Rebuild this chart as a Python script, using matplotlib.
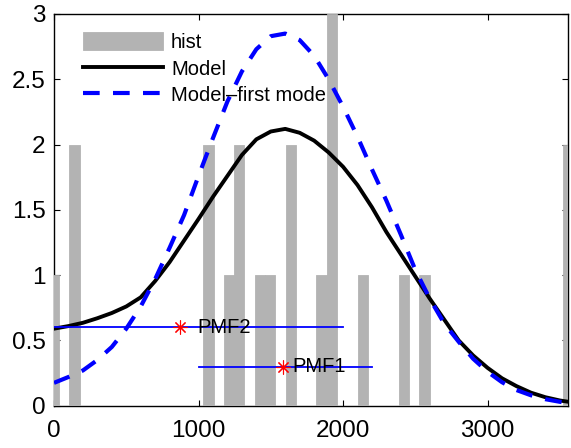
import numpy as np
import matplotlib.pyplot as plt

plt.rcParams['font.family'] = ['Liberation Sans', 'DejaVu Sans']

# histogram: 51 bins from 0 to 3560, counts per bin
bin_centers = np.linspace(0, 3560, 51)
counts = [1, 0, 2, 0, 0, 0, 0, 0, 0, 0,
          0, 0, 0, 0, 0, 2, 0, 1, 2, 0,
          1, 1, 0, 2, 0, 0, 1, 3, 0, 0,
          1, 0, 0, 0, 1, 0, 1, 0, 0, 0,
          0, 0, 0, 0, 0, 0, 0, 0, 0, 0,
          2]

# model curves
curve_x = [0, 100, 200, 300, 400, 500, 600, 700, 800, 900,
           1000, 1100, 1200, 1300, 1400, 1500, 1600, 1700, 1800, 1900,
           2000, 2100, 2200, 2300, 2400, 2500, 2600, 2700, 2800, 2900,
           3000, 3100, 3200, 3300, 3400, 3500, 3560]
model = [0.59, 0.61, 0.635, 0.67, 0.71, 0.76, 0.83, 0.955, 1.10, 1.265,
         1.43, 1.60, 1.76, 1.92, 2.04, 2.10, 2.12, 2.09, 2.03, 1.94,
         1.83, 1.69, 1.52, 1.33, 1.16, 0.99, 0.82, 0.66, 0.50, 0.385,
         0.29, 0.21, 0.15, 0.10, 0.065, 0.04, 0.03]
first_mode = [0.175, 0.22, 0.27, 0.35, 0.45, 0.59, 0.76, 0.97, 1.21, 1.46,
              1.76, 2.05, 2.33, 2.56, 2.73, 2.83, 2.85, 2.80, 2.68, 2.50,
              2.29, 2.06, 1.81, 1.57, 1.31, 1.04, 0.82, 0.63, 0.49, 0.36,
              0.26, 0.18, 0.12, 0.08, 0.05, 0.03, 0.02]

# PMF markers with their ranges
pmf_names = ['PMF2', 'PMF1']
pmf_centers = [875, 1585]
pmf_y = [0.6, 0.3]
pmf_lo = [0, 1000]
pmf_hi = [2000, 2200]
label_x = [990, 1650]


def main():
    fig = plt.figure(figsize=(5.71, 4.48), dpi=100)
    ax = fig.add_axes([0.0946, 0.0944, 0.9010, 0.8744])

    gray = '#b3b3b3'
    step = bin_centers[1] - bin_centers[0]
    h_bar = ax.bar(bin_centers, counts, width=step, color=gray, edgecolor=gray,
                   linewidth=0.6, label='hist', zorder=3)

    h_model, = ax.plot(curve_x, model, color='black', lw=2.8, label='Model',
                       zorder=4, solid_joinstyle='round')
    h_first, = ax.plot(curve_x, first_mode, color='blue', lw=3, dashes=(4, 3.2),
                       label='Model\u2013first mode', zorder=4)

    for i in range(len(pmf_names)):
        ax.plot([pmf_lo[i], pmf_hi[i]], [pmf_y[i], pmf_y[i]], color='#0000ff',
                lw=1.3, zorder=5)
        ax.plot(pmf_centers[i], pmf_y[i], marker=(8, 2, 0), color='red',
                ms=10, mew=0.8, zorder=6)
        ax.text(label_x[i], pmf_y[i], pmf_names[i], fontsize=14.5,
                va='center', ha='left', zorder=7)

    ax.set_xlim(0, 3560)
    ax.set_ylim(0, 3)
    ax.set_xticks([0, 1000, 2000, 3000])
    ax.set_yticks([0, 0.5, 1, 1.5, 2, 2.5, 3])
    ax.set_yticklabels(['0', '0.5', '1', '1.5', '2', '2.5', '3'])
    ax.tick_params(direction='in', top=True, right=True, length=4,
                   width=0.8, labelsize=17.5)
    ax.tick_params(axis='x', pad=10)
    ax.tick_params(axis='y', pad=6)
    for s in ax.spines.values():
        s.set_linewidth(1.0)

    ax.legend([h_bar, h_model, h_first],
              ['hist', 'Model', 'Model\u2013first mode'],
              loc='upper left', bbox_to_anchor=(0.0558, 0.953),
              frameon=False, fontsize=14.5, borderpad=0, borderaxespad=0,
              handlelength=4.0, handleheight=1.0, handletextpad=0.38,
              labelspacing=0.33)

    fig.savefig('out.png', dpi=100)


if __name__ == "__main__":
    main()
